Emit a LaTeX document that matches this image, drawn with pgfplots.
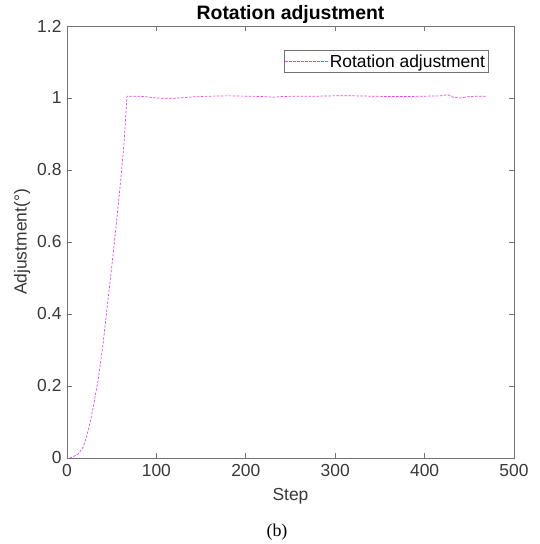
\documentclass[border=0pt]{standalone}
\usepackage{fontspec}
\setmainfont{Liberation Sans}
\newfontfamily\capfont{Liberation Serif}
\usepackage{pgfplots}
\pgfplotsset{compat=1.18}
\definecolor{axgray}{gray}{0.45}
\definecolor{txtgray}{gray}{0.22}
\definecolor{linepink}{RGB}{235,70,225}

\begin{document}
\begin{tikzpicture}[x=1bp,y=1bp]
\useasboundingbox (0,0) rectangle (540,544);
\begin{axis}[
  at={(67bp,86bp)}, anchor=south west,
  width=447bp, height=432bp, scale only axis,
  xmin=0, xmax=500, ymin=0, ymax=1.2,
  xtick={0,100,200,300,400,500},
  ytick={0,0.2,0.4,0.6,0.8,1,1.2},
  yticklabels={0,0.2,0.4,0.6,0.8,1,1.2},
  tick align=inside, tick pos=both,
  major tick length=5bp,
  axis line style={axgray, line width=0.7pt},
  every tick/.style={axgray, line width=0.7pt},
  /pgf/number format/assume math mode=true,
  tick label style={font=\fontsize{17.5}{20}\selectfont, text=txtgray},
  xticklabel style={yshift=-3bp},
  yticklabel style={xshift=-2bp},
  label style={font=\fontsize{17.5}{20}\selectfont, text=txtgray},
  xlabel={Step},
  ylabel={Adjustment(°)},
  xlabel style={at={(0.5,0)}, anchor=center, yshift=-38bp},
  ylabel style={at={(0,0.5)}, anchor=center, yshift=45bp},
  title={Rotation adjustment},
  title style={font=\fontsize{19.5}{22}\bfseries, text=black, at={(0.5,1)}, anchor=base, yshift=1bp},
  legend style={at={(0.942,0.944)}, anchor=north east,
    font=\fontsize{17.5}{20}\selectfont, inner xsep=1bp, inner ysep=2bp,
    row sep=0bp},
  every axis legend/.append style={draw=axgray},
  legend cell align=left,
]
\addplot[linepink, line width=0.7pt, dash pattern=on 2.5pt off 1.5pt,
  legend image code/.code={%
    \foreach \i in {0,4,...,40} {%
      \fill[fill=linepink, draw=none] ({\i*1bp},-0.4pt) rectangle ({(\i+2.5)*1bp},0.4pt);}%
  }]
  coordinates {
  (3,0)(8,0.005)(13,0.012)(18,0.03)(22,0.06)(26,0.10)(30,0.15)(35,0.22)
  (40,0.31)(45,0.42)(50,0.53)(55,0.645)(60,0.77)(64,0.88)(67,1.005)
  (80,1.005)(90,1.003)(100,1.000)(110,0.999)(120,0.999)(130,1.001)
  (140,1.003)(160,1.005)(180,1.006)(200,1.005)(220,1.004)(230,1.002)
  (240,1.004)(260,1.005)(280,1.005)(300,1.006)(320,1.006)(340,1.005)
  (360,1.004)(380,1.004)(400,1.005)(418,1.006)(426,1.009)(432,1.002)
  (440,1.000)(450,1.004)(460,1.005)(469,1.005)
};
\addlegendentry{Rotation adjustment}
\end{axis}
\node[font=\capfont\fontsize{18}{21}\selectfont] at (277,12) {(b)};
\end{tikzpicture}
\end{document}
